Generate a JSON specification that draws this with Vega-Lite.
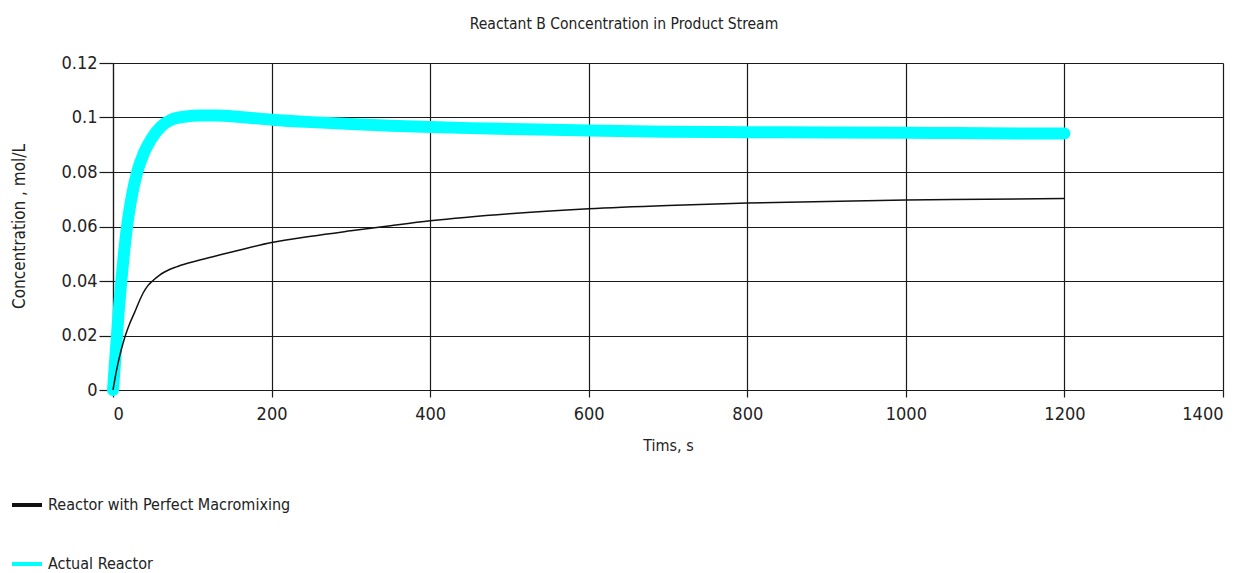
{
  "$schema": "https://vega.github.io/schema/vega-lite/v6.json",
  "width": 1110,
  "height": 327,
  "autosize": {"type": "none"},
  "padding": {"left": 113, "top": 63, "right": 32, "bottom": 183},
  "background": "white",
  "config": {
    "font": "Liberation Sans Narrow, DejaVu Sans Condensed, Arial Narrow, sans-serif",
    "view": {"stroke": null},
    "axis": {
      "gridColor": "#1a1a1a",
      "gridWidth": 1.2,
      "gridOpacity": 1,
      "domainColor": "#1a1a1a",
      "domainWidth": 1.2,
      "tickColor": "#1a1a1a",
      "tickWidth": 1.2,
      "labelColor": "#222",
      "titleColor": "#222",
      "labelFontSize": 18,
      "titleFontSize": 16,
      "titleFontWeight": "normal"
    }
  },
  "title": {
    "text": "Reactant B Concentration in Product Stream",
    "fontSize": 15.5,
    "fontWeight": "normal",
    "color": "#222",
    "anchor": "middle",
    "dx": -44,
    "offset": 22
  },
  "datasets": {
    "actual": [
      {"t": 0, "c": 0, "series": "Actual Reactor"},
      {"t": 2.5, "c": 0.01, "series": "Actual Reactor"},
      {"t": 5, "c": 0.02, "series": "Actual Reactor"},
      {"t": 7.5, "c": 0.03, "series": "Actual Reactor"},
      {"t": 10.5, "c": 0.04, "series": "Actual Reactor"},
      {"t": 13.8, "c": 0.05, "series": "Actual Reactor"},
      {"t": 17.7, "c": 0.06, "series": "Actual Reactor"},
      {"t": 23, "c": 0.07, "series": "Actual Reactor"},
      {"t": 30.5, "c": 0.08, "series": "Actual Reactor"},
      {"t": 39, "c": 0.087, "series": "Actual Reactor"},
      {"t": 48, "c": 0.092, "series": "Actual Reactor"},
      {"t": 60, "c": 0.0965, "series": "Actual Reactor"},
      {"t": 74, "c": 0.0993, "series": "Actual Reactor"},
      {"t": 90, "c": 0.1003, "series": "Actual Reactor"},
      {"t": 110, "c": 0.1007, "series": "Actual Reactor"},
      {"t": 130, "c": 0.1007, "series": "Actual Reactor"},
      {"t": 160, "c": 0.1002, "series": "Actual Reactor"},
      {"t": 200, "c": 0.0992, "series": "Actual Reactor"},
      {"t": 250, "c": 0.0983, "series": "Actual Reactor"},
      {"t": 300, "c": 0.0976, "series": "Actual Reactor"},
      {"t": 350, "c": 0.097, "series": "Actual Reactor"},
      {"t": 400, "c": 0.0965, "series": "Actual Reactor"},
      {"t": 450, "c": 0.0961, "series": "Actual Reactor"},
      {"t": 500, "c": 0.0958, "series": "Actual Reactor"},
      {"t": 600, "c": 0.0952, "series": "Actual Reactor"},
      {"t": 700, "c": 0.0948, "series": "Actual Reactor"},
      {"t": 800, "c": 0.0946, "series": "Actual Reactor"},
      {"t": 900, "c": 0.0945, "series": "Actual Reactor"},
      {"t": 1000, "c": 0.0944, "series": "Actual Reactor"},
      {"t": 1100, "c": 0.0942, "series": "Actual Reactor"},
      {"t": 1200, "c": 0.0941, "series": "Actual Reactor"}
    ],
    "ideal": [
      {"t": 0, "c": 0, "series": "Reactor with Perfect Macromixing"},
      {"t": 3, "c": 0.005, "series": "Reactor with Perfect Macromixing"},
      {"t": 6.3, "c": 0.0098, "series": "Reactor with Perfect Macromixing"},
      {"t": 10, "c": 0.0143, "series": "Reactor with Perfect Macromixing"},
      {"t": 15.6, "c": 0.02, "series": "Reactor with Perfect Macromixing"},
      {"t": 21, "c": 0.0243, "series": "Reactor with Perfect Macromixing"},
      {"t": 27, "c": 0.0283, "series": "Reactor with Perfect Macromixing"},
      {"t": 33, "c": 0.0325, "series": "Reactor with Perfect Macromixing"},
      {"t": 38, "c": 0.0356, "series": "Reactor with Perfect Macromixing"},
      {"t": 44, "c": 0.0383, "series": "Reactor with Perfect Macromixing"},
      {"t": 50.5, "c": 0.0402, "series": "Reactor with Perfect Macromixing"},
      {"t": 58, "c": 0.042, "series": "Reactor with Perfect Macromixing"},
      {"t": 65, "c": 0.0433, "series": "Reactor with Perfect Macromixing"},
      {"t": 80, "c": 0.0452, "series": "Reactor with Perfect Macromixing"},
      {"t": 95, "c": 0.0466, "series": "Reactor with Perfect Macromixing"},
      {"t": 126, "c": 0.0489, "series": "Reactor with Perfect Macromixing"},
      {"t": 160, "c": 0.0514, "series": "Reactor with Perfect Macromixing"},
      {"t": 200, "c": 0.0541, "series": "Reactor with Perfect Macromixing"},
      {"t": 250, "c": 0.0564, "series": "Reactor with Perfect Macromixing"},
      {"t": 300, "c": 0.0584, "series": "Reactor with Perfect Macromixing"},
      {"t": 350, "c": 0.0603, "series": "Reactor with Perfect Macromixing"},
      {"t": 400, "c": 0.0621, "series": "Reactor with Perfect Macromixing"},
      {"t": 500, "c": 0.0647, "series": "Reactor with Perfect Macromixing"},
      {"t": 600, "c": 0.0665, "series": "Reactor with Perfect Macromixing"},
      {"t": 700, "c": 0.0677, "series": "Reactor with Perfect Macromixing"},
      {"t": 800, "c": 0.0686, "series": "Reactor with Perfect Macromixing"},
      {"t": 900, "c": 0.0692, "series": "Reactor with Perfect Macromixing"},
      {"t": 1000, "c": 0.0697, "series": "Reactor with Perfect Macromixing"},
      {"t": 1100, "c": 0.07, "series": "Reactor with Perfect Macromixing"},
      {"t": 1200, "c": 0.0703, "series": "Reactor with Perfect Macromixing"}
    ]
  },
  "encoding": {
    "x": {
      "field": "t",
      "type": "quantitative",
      "scale": {"domain": [0, 1400], "nice": false},
      "axis": {
        "title": "Tims, s",
        "values": [0, 200, 400, 600, 800, 1000, 1200, 1400],
        "format": "d",
        "tickSize": 7,
        "labelPadding": 8,
        "titlePadding": 14
      }
    },
    "y": {
      "field": "c",
      "type": "quantitative",
      "scale": {"domain": [0, 0.12], "nice": false},
      "axis": {
        "title": "Concentration , mol/L",
        "titleFontSize": 17,
        "values": [0, 0.02, 0.04, 0.06, 0.08, 0.1, 0.12],
        "labelExpr": "format(datum.value, '.2~f')",
        "tickSize": 14,
        "labelPadding": 2,
        "titleX": -85,
        "titleY": 163
      }
    },
    "color": {
      "field": "series",
      "type": "nominal",
      "scale": {
        "domain": ["Reactor with Perfect Macromixing", "Actual Reactor"],
        "range": ["#111111", "#00ffff"]
      },
      "legend": {
        "title": null,
        "orient": "none",
        "legendX": -103,
        "legendY": 425,
        "direction": "vertical",
        "symbolType": "stroke",
        "symbolSize": 900,
        "symbolStrokeWidth": 4,
        "labelFontSize": 16,
        "labelColor": "#222",
        "labelLimit": 400,
        "labelOffset": 4,
        "rowPadding": 34
      }
    }
  },
  "layer": [
    {
      "data": {"name": "actual"},
      "mark": {"type": "line", "strokeWidth": 12, "strokeCap": "round", "strokeJoin": "round", "interpolate": "monotone"}
    },
    {
      "data": {"name": "ideal"},
      "mark": {"type": "line", "strokeWidth": 1.5, "interpolate": "monotone"}
    }
  ]
}
